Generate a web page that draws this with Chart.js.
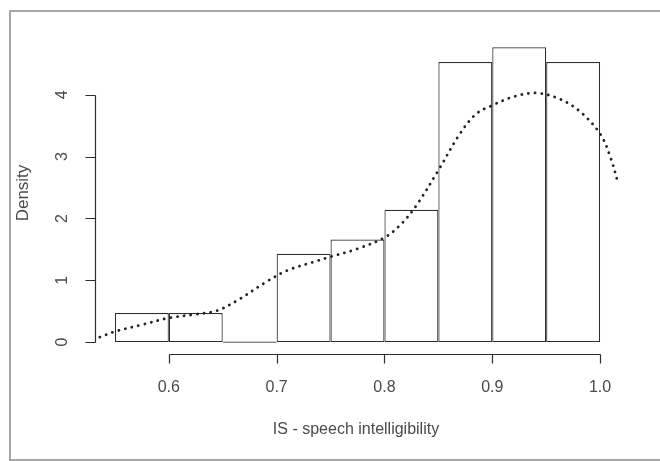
<!DOCTYPE html>
<html lang="en">
<head>
<meta charset="UTF-8">
<title>IS - speech intelligibility</title>
<script src="https://cdn.jsdelivr.net/npm/chart.js"></script>
<style>
  html, body { margin: 0; padding: 0; background: #fff; }
</style>
</head>
<body>
<canvas id="myChart" width="660" height="461"></canvas>
<script>
// histogram: bin midpoints (width 0.05) and density heights
const binMids = [0.575, 0.625, 0.675, 0.725, 0.775, 0.825, 0.875, 0.925, 0.975];
const binDensity = [0.47, 0.47, 0, 1.43, 1.66, 2.14, 4.53, 4.77, 4.53];

// density curve
const kdeX = [0.536, 0.55, 0.575, 0.6, 0.625, 0.645, 0.665, 0.69, 0.71, 0.735, 0.75, 0.775, 0.8,
              0.815, 0.83, 0.85, 0.87, 0.885, 0.9, 0.92, 0.94, 0.96, 0.98, 1.0, 1.01, 1.017];
const kdeY = [0.08, 0.17, 0.28, 0.39, 0.45, 0.51, 0.69, 0.97, 1.16, 1.30, 1.38, 1.51, 1.69,
              1.90, 2.22, 2.78, 3.37, 3.69, 3.83, 3.97, 4.03, 3.95, 3.75, 3.37, 2.97, 2.55];

const xTicks = [0.6, 0.7, 0.8, 0.9, 1.0];
const yTicks = [0, 1, 2, 3, 4];
const xTitle = 'IS - speech intelligibility';
const yTitle = 'Density';

const FONT = '16px "Liberation Sans", Arial, sans-serif';
const LINE = '#2e2e2e';

// R-style axes (detached from the plot region) + outer frame
const rAxes = {
  id: 'rAxes',
  beforeDraw(chart) {
    const c = chart.ctx;
    c.save();
    c.fillStyle = '#fff';
    c.fillRect(0, 0, chart.width, chart.height);
    c.strokeStyle = '#a6a6a6';
    c.lineWidth = 2;
    c.strokeRect(10, 11, 660, 449);
    c.restore();
  },
  afterDraw(chart) {
    const c = chart.ctx, xs = chart.scales.x, ys = chart.scales.y;
    c.save();
    c.strokeStyle = LINE;
    c.lineWidth = 1.2;
    c.fillStyle = '#4a4a4a';
    c.font = FONT;

    // y axis
    const ax = 95.5;
    c.beginPath();
    c.moveTo(ax, Math.round(ys.getPixelForValue(yTicks[0])) + 0.5);
    c.lineTo(ax, Math.round(ys.getPixelForValue(yTicks[yTicks.length - 1])) + 0.5);
    yTicks.forEach(t => {
      const py = Math.round(ys.getPixelForValue(t)) + 0.5;
      c.moveTo(ax, py);
      c.lineTo(ax - 10, py);
    });
    c.stroke();
    c.textAlign = 'center';
    c.textBaseline = 'middle';
    yTicks.forEach(t => {
      c.save();
      c.translate(63, ys.getPixelForValue(t));
      c.rotate(-Math.PI / 2);
      c.fillText(String(t), 0, 0);
      c.restore();
    });

    // x axis
    const ay = 354.5;
    c.beginPath();
    c.moveTo(Math.round(xs.getPixelForValue(xTicks[0])) + 0.5, ay);
    c.lineTo(Math.round(xs.getPixelForValue(xTicks[xTicks.length - 1])) + 0.5, ay);
    xTicks.forEach(t => {
      const px = Math.round(xs.getPixelForValue(t)) + 0.5;
      c.moveTo(px, ay);
      c.lineTo(px, ay + 9);
    });
    c.stroke();
    xTicks.forEach(t => c.fillText(t.toFixed(1), xs.getPixelForValue(t), 388));

    // titles
    c.fillText(xTitle, 356, 430);
    c.save();
    c.translate(23, 193);
    c.rotate(-Math.PI / 2);
    c.font = '17px "Liberation Sans", Arial, sans-serif';
    c.fillText(yTitle, 0, 0);
    c.restore();
    c.restore();
  }
};

const ctx = document.getElementById('myChart').getContext('2d');
new Chart(ctx, {
  data: {
    datasets: [
      {
        type: 'bar',
        data: binMids.map((m, i) => ({ x: m, y: binDensity[i] })),
        backgroundColor: '#fff',
        borderColor: LINE,
        borderWidth: 1.2,
        borderSkipped: false,
        inflateAmount: 0,
        minBarLength: 1.2,
        barPercentage: 1,
        categoryPercentage: 1,
        order: 2
      },
      {
        type: 'line',
        data: kdeX.map((x, i) => ({ x: x, y: kdeY[i] })),
        borderColor: '#222',
        borderWidth: 2.8,
        borderDash: [0.1, 6.6],
        borderCapStyle: 'round',
        pointRadius: 0,
        tension: 0.35,
        fill: false,
        order: 1
      }
    ]
  },
  options: {
    responsive: false,
    animation: false,
    layout: { padding: { left: 61, right: 6, top: 33, bottom: 88 } },
    plugins: { legend: { display: false }, tooltip: { enabled: false } },
    scales: {
      x: { type: 'linear', min: 0.5, max: 1.05, offset: false, display: false },
      y: { type: 'linear', min: -0.5, max: 5, display: false }
    }
  },
  plugins: [rAxes]
});
</script>
</body>
</html>
